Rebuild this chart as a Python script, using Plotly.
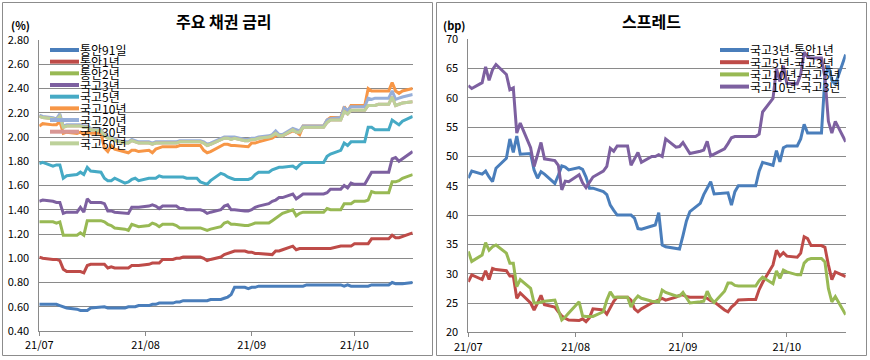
import pandas as pd
import plotly.graph_objects as go

# ---------------- data ----------------
dates = pd.bdate_range("2021-07-01", "2021-10-18")  # 78 weekdays (holidays carry prior value)

month_ticks = ["2021-07-01", "2021-08-01", "2021-09-01", "2021-10-01"]
month_labels = ["21/07", "21/08", "21/09", "21/10"]

rate_names = ["통안91일", "통안1년", "통안2년", "국고3년", "국고5년", "국고10년", "국고20년", "국고30년", "국고50년"]

msb91d = [0.62,0.62,0.62,0.62,0.61,0.60,0.59,0.58,0.57,0.57,0.57,0.59,0.60,0.60,0.59,0.59,0.59,0.59,0.60,0.60,0.60,0.61,
          0.61,0.62,0.62,0.63,0.63,0.63,0.64,0.64,0.65,0.65,0.65,0.65,0.65,0.65,0.66,0.66,0.67,0.68,0.70,0.76,0.76,0.75,
          0.76,0.76,0.77,0.77,0.77,0.77,0.77,0.77,0.77,0.77,0.77,0.77,0.78,0.78,0.78,0.78,0.78,0.78,0.78,0.77,0.78,0.77,
          0.77,0.77,0.77,0.78,0.78,0.78,0.78,0.80,0.79,0.79,0.79,0.80]
msb1y = [1.01,1.00,0.99,0.99,0.98,0.91,0.89,0.89,0.89,0.88,0.94,0.95,0.95,0.95,0.92,0.93,0.92,0.92,0.92,0.94,0.94,0.94,
         0.95,0.96,0.96,0.96,0.99,0.99,1.00,1.00,1.01,1.01,1.01,1.01,1.00,0.98,0.99,1.01,1.03,1.04,1.05,1.06,1.06,1.05,
         1.05,1.04,1.04,1.03,1.03,1.06,1.06,1.07,1.10,1.07,1.08,1.08,1.08,1.08,1.08,1.08,1.08,1.08,1.10,1.10,1.10,1.10,
         1.12,1.12,1.12,1.16,1.16,1.16,1.16,1.19,1.17,1.17,1.18,1.21]
msb2y = [1.30,1.30,1.30,1.29,1.30,1.19,1.19,1.19,1.21,1.19,1.31,1.31,1.31,1.30,1.28,1.27,1.25,1.24,1.23,1.28,1.27,1.26,
         1.27,1.29,1.28,1.26,1.28,1.28,1.27,1.25,1.25,1.25,1.25,1.25,1.24,1.23,1.24,1.26,1.29,1.30,1.28,1.28,1.27,1.27,
         1.28,1.29,1.29,1.29,1.31,1.33,1.35,1.37,1.40,1.35,1.37,1.38,1.38,1.38,1.38,1.38,1.41,1.40,1.40,1.45,1.45,1.45,
         1.47,1.47,1.48,1.55,1.54,1.54,1.54,1.63,1.63,1.64,1.66,1.69]
ktb3y = [1.47,1.48,1.47,1.46,1.46,1.37,1.38,1.38,1.42,1.38,1.49,1.46,1.46,1.45,1.39,1.39,1.38,1.37,1.37,1.42,1.42,1.42,
         1.43,1.44,1.43,1.41,1.43,1.43,1.43,1.41,1.41,1.40,1.40,1.40,1.39,1.37,1.38,1.40,1.43,1.44,1.40,1.40,1.39,1.39,
         1.40,1.42,1.43,1.45,1.47,1.48,1.50,1.50,1.53,1.49,1.51,1.53,1.53,1.53,1.53,1.53,1.54,1.57,1.57,1.60,1.58,1.62,
         1.61,1.61,1.66,1.71,1.71,1.71,1.71,1.82,1.83,1.80,1.82,1.88]
ktb5y = [1.78,1.79,1.76,1.77,1.77,1.66,1.68,1.69,1.71,1.69,1.75,1.72,1.71,1.66,1.64,1.64,1.66,1.62,1.63,1.65,1.66,1.64,
         1.66,1.66,1.66,1.68,1.67,1.67,1.67,1.67,1.67,1.66,1.66,1.63,1.62,1.61,1.64,1.70,1.69,1.67,1.66,1.65,1.65,1.65,
         1.66,1.69,1.71,1.71,1.73,1.74,1.75,1.75,1.76,1.74,1.77,1.79,1.79,1.79,1.79,1.79,1.84,1.86,1.89,1.95,1.93,1.96,
         1.96,1.96,2.08,2.08,2.06,2.06,2.06,2.14,2.12,2.10,2.13,2.17]
ktb10y = [2.09,2.11,2.10,2.10,2.13,2.03,2.04,2.03,2.04,2.02,2.04,2.03,2.03,1.91,1.88,1.93,1.90,1.88,1.87,1.89,1.89,1.88,
          1.89,1.87,1.90,1.91,1.92,1.92,1.92,1.93,1.93,1.93,1.93,1.93,1.89,1.87,1.88,1.92,1.94,1.94,1.93,1.93,1.92,1.92,
          1.95,1.95,1.96,1.98,1.99,2.01,2.02,2.01,2.05,2.04,2.02,2.09,2.09,2.09,2.09,2.09,2.14,2.16,2.16,2.25,2.21,2.26,
          2.26,2.26,2.40,2.38,2.38,2.38,2.38,2.45,2.38,2.36,2.38,2.40]
ktb20y = [2.18,2.17,2.16,2.15,2.19,2.09,2.10,2.10,2.10,2.09,2.09,2.07,2.06,2.02,2.00,2.00,1.98,1.96,1.96,1.98,1.97,1.96,
          1.96,1.95,1.96,1.96,1.96,1.96,1.96,1.97,1.97,1.97,1.97,1.97,1.96,1.94,1.95,1.99,2.00,2.00,2.00,2.00,1.98,1.98,
          1.99,1.99,2.00,2.01,2.02,2.05,2.02,2.02,2.07,2.06,2.05,2.09,2.09,2.09,2.09,2.09,2.14,2.15,2.16,2.24,2.22,2.25,
          2.25,2.25,2.32,2.31,2.32,2.32,2.32,2.38,2.31,2.32,2.33,2.35]
ktb30y = [2.17,2.16,2.15,2.14,2.17,2.08,2.09,2.09,2.09,2.08,2.08,2.06,2.05,2.01,1.99,1.99,1.97,1.95,1.95,1.97,1.96,1.95,
          1.95,1.94,1.95,1.95,1.95,1.95,1.95,1.96,1.96,1.96,1.96,1.96,1.95,1.93,1.94,1.98,1.99,1.99,1.98,1.99,1.97,1.97,
          1.98,1.98,1.99,2.00,2.01,2.03,2.01,2.01,2.06,2.04,2.04,2.08,2.08,2.08,2.08,2.08,2.12,2.14,2.14,2.21,2.19,2.22,
          2.22,2.22,2.26,2.26,2.26,2.27,2.27,2.33,2.26,2.27,2.28,2.29]
ktb50y = [2.17,2.16,2.15,2.14,2.17,2.08,2.09,2.09,2.09,2.08,2.08,2.06,2.05,2.01,1.99,1.99,1.97,1.95,1.95,1.97,1.96,1.95,
          1.95,1.94,1.95,1.95,1.95,1.95,1.95,1.96,1.96,1.96,1.96,1.96,1.95,1.93,1.94,1.98,1.99,1.99,1.98,1.99,1.97,1.97,
          1.98,1.98,1.99,2.00,2.01,2.03,2.01,2.01,2.06,2.04,2.04,2.08,2.08,2.08,2.08,2.08,2.12,2.14,2.14,2.21,2.19,2.22,
          2.22,2.22,2.26,2.26,2.26,2.27,2.27,2.33,2.26,2.27,2.28,2.29]

spread_names = ["국고3년-통안1년", "국고5년-국고3년", "국고10년-국고5년", "국고10년-국고3년"]

sp_3y_1y = [46.3,47.5,47.0,47.5,46.5,45.7,48.0,49.7,53.0,50.7,53.5,50.4,50.5,47.7,46.3,47.4,47.0,45.4,46.8,48.4,48.2,47.7,
            48.1,47.8,46.5,44.6,44.6,44.0,43.5,41.7,40.8,40.0,40.0,40.0,39.5,37.7,37.6,38.2,38.3,40.4,34.9,34.6,34.3,34.2,
            36.5,39.0,40.6,42.0,43.5,44.5,45.7,43.6,43.7,43.8,41.7,44.0,45.0,45.0,45.0,45.0,47.5,49.0,48.5,51.0,49.1,51.5,
            51.8,51.8,53.0,55.5,54.0,54.0,54.0,63.5,65.5,63.0,62.3,67.4]
sp_5y_3y = [28.6,29.8,29.0,30.5,29.0,30.9,30.7,30.5,29.6,29.6,25.8,26.7,25.0,23.8,25.0,26.3,24.7,24.3,23.5,22.8,22.4,22.1,
            22.0,22.3,21.8,22.5,24.0,23.8,23.1,24.3,25.3,26.0,26.0,25.5,24.0,23.5,24.0,25.0,25.3,25.6,25.8,25.5,26.0,26.3,
            26.4,26.1,26.0,26.0,26.0,25.8,25.4,25.2,23.8,23.5,24.3,24.8,25.5,25.6,25.6,25.6,27.3,28.5,31.5,34.0,33.0,33.6,
            33.0,32.8,33.5,36.3,36.0,34.8,34.8,34.5,31.5,29.0,30.3,29.5]
sp_10y_5y = [33.8,32.1,33.2,35.3,34.0,34.6,34.9,33.5,31.8,31.8,27.8,29.0,27.5,25.0,25.0,25.2,25.3,25.5,23.8,22.1,22.6,23.3,
             25.2,22.8,22.7,22.7,22.7,23.5,25.5,26.9,26.0,26.0,26.0,24.3,25.5,26.2,25.8,25.3,25.2,25.2,27.2,26.8,26.2,26.2,
             26.8,26.0,25.0,25.2,25.3,27.0,25.8,25.1,27.0,28.4,28.4,28.0,27.9,27.9,27.9,27.9,28.8,29.4,28.3,30.5,29.2,30.6,
             30.3,29.8,29.8,31.8,32.4,32.6,32.6,32.0,27.5,25.2,26.1,23.0]
sp_10y_3y = [62.1,61.6,62.6,65.3,63.0,64.8,65.7,64.0,61.4,61.7,54.0,55.7,51.5,48.3,50.3,52.4,49.6,49.3,48.5,44.3,45.8,45.7,
             46.9,45.5,44.7,45.5,46.5,47.5,48.3,51.4,50.9,51.8,51.8,48.5,49.5,50.7,49.0,50.0,50.0,50.3,50.0,53.0,51.6,51.7,
             52.4,51.5,50.5,50.9,51.1,52.6,50.1,50.4,51.3,52.2,53.2,53.4,53.4,53.4,53.4,53.4,53.8,57.6,59.9,65.0,62.8,65.5,
             62.5,62.4,64.0,67.8,67.0,66.8,66.8,63.5,56.0,54.0,56.0,52.5]

# ---------------- styles ----------------
W, H = 870, 360
FONT = "Noto Sans CJK KR, Noto Sans, sans-serif"
GRID = "#8a8a8a"
rate_series = [msb91d, msb1y, msb2y, ktb3y, ktb5y, ktb10y, ktb20y, ktb30y, ktb50y]
rate_colors = ["#4A7EBB", "#BE4B48", "#98B954", "#7D60A0", "#46AAC5", "#F79646", "#97AFD9", "#D99795", "#BDD19A"]
spread_series = [sp_3y_1y, sp_5y_3y, sp_10y_5y, sp_10y_3y]
spread_colors = ["#4A7EBB", "#BE4B48", "#98B954", "#7D60A0"]


def px(x):
    return x / W


def py(y):
    return 1 - y / H


fig = go.Figure()
for name, vals, col in zip(rate_names, rate_series, rate_colors):
    fig.add_trace(go.Scatter(x=dates, y=vals, name=name, mode="lines",
                             line=dict(color=col, width=3), xaxis="x", yaxis="y",
                             showlegend=False, hoverinfo="skip"))
for name, vals, col in zip(spread_names, spread_series, spread_colors):
    fig.add_trace(go.Scatter(x=dates, y=vals, name=name, mode="lines",
                             line=dict(color=col, width=3), xaxis="x2", yaxis="y2",
                             showlegend=False, hoverinfo="skip"))

xcommon = dict(type="date", range=[dates[0], dates[-1]], tickvals=month_ticks, ticktext=month_labels,
               ticks="outside", ticklen=4, tickcolor=GRID, showline=True, linecolor=GRID,
               showgrid=False, zeroline=False, tickfont=dict(size=11, color="black", family=FONT),
               fixedrange=True, automargin=False)
ycommon = dict(showgrid=True, gridcolor=GRID, gridwidth=1, showline=True, linecolor=GRID,
               zeroline=False, ticks="", ticklabelstandoff=7,
               tickfont=dict(size=11, color="black", family=FONT), fixedrange=True, automargin=False)

fig.update_layout(
    template="none",
    width=W, height=H, margin=dict(l=0, r=0, t=0, b=0, pad=0, autoexpand=False),
    paper_bgcolor="white", plot_bgcolor="white", showlegend=False,
    font=dict(family=FONT, color="black"),
    xaxis=dict(domain=[px(39.3), px(412.7)], anchor="y", **xcommon),
    yaxis=dict(domain=[py(331), py(40)], anchor="x", range=[0.4, 2.8], dtick=0.2, tick0=0.4,
               tickformat=".2f", **ycommon),
    xaxis2=dict(domain=[px(468.3), px(845.7)], anchor="y2", **xcommon),
    yaxis2=dict(domain=[py(332.3), py(39.3)], anchor="x2", range=[20, 70], dtick=5, tick0=20,
                **ycommon),
)

shapes = [
    dict(type="rect", xref="paper", yref="paper", x0=px(2.5), x1=px(432.5), y0=py(355.5), y1=py(2.5),
         line=dict(color="#8c8c8c", width=1)),
    dict(type="rect", xref="paper", yref="paper", x0=px(436.5), x1=px(866.5), y0=py(355.5), y1=py(2.5),
         line=dict(color="#8c8c8c", width=1)),
]
annotations = [
    dict(text="<b>주요 채권 금리</b>", x=px(224), y=py(21), xref="paper", yref="paper",
         showarrow=False, font=dict(size=16, family=FONT), xanchor="center", yanchor="middle"),
    dict(text="<b>스프레드</b>", x=px(651.5), y=py(21), xref="paper", yref="paper",
         showarrow=False, font=dict(size=16, family=FONT), xanchor="center", yanchor="middle"),
    dict(text="<b>(%)</b>", x=px(20), y=py(25), xref="paper", yref="paper",
         showarrow=False, font=dict(size=11, family=FONT), xanchor="center", yanchor="middle"),
    dict(text="<b>(bp)</b>", x=px(454), y=py(25), xref="paper", yref="paper",
         showarrow=False, font=dict(size=11, family=FONT), xanchor="center", yanchor="middle"),
]

# custom compact legends (Excel style)
for i, (name, col) in enumerate(zip(rate_names, rate_colors)):
    yy = 50 + i * 11.67
    shapes.append(dict(type="line", xref="paper", yref="paper", x0=px(50), x1=px(79),
                       y0=py(yy), y1=py(yy), line=dict(color=col, width=4)))
    annotations.append(dict(text=name, x=px(78), y=py(yy), xref="paper", yref="paper",
                            showarrow=False, font=dict(size=12, family=FONT),
                            xanchor="left", yanchor="middle"))
for i, (name, col) in enumerate(zip(spread_names, spread_colors)):
    yy = 50 + i * 12.2
    shapes.append(dict(type="line", xref="paper", yref="paper", x0=px(720), x1=px(749),
                       y0=py(yy), y1=py(yy), line=dict(color=col, width=4)))
    annotations.append(dict(text=name, x=px(748), y=py(yy), xref="paper", yref="paper",
                            showarrow=False, font=dict(size=12, family=FONT),
                            xanchor="left", yanchor="middle"))

fig.update_layout(shapes=shapes, annotations=annotations)
fig.write_html("out.html",
               config={"displayModeBar": False},
               post_script="document.body.style.margin='0';document.body.style.padding='0';")
